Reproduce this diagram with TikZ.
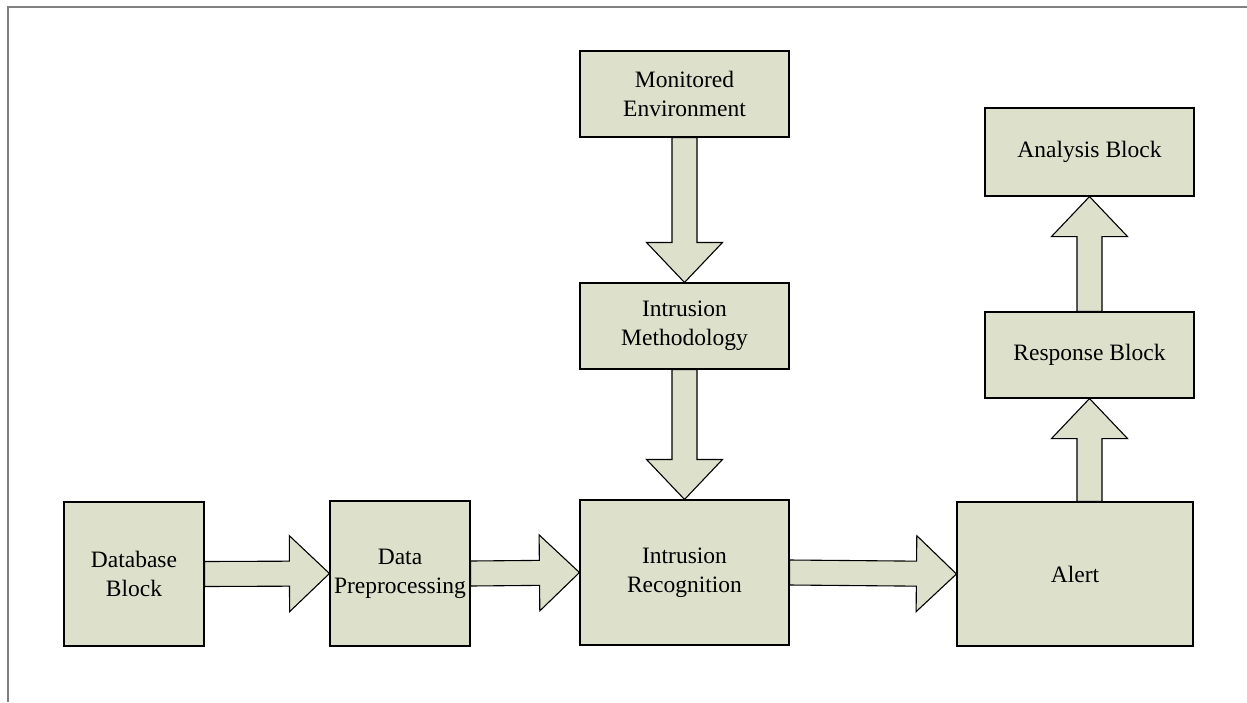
\documentclass[tikz,border=0pt]{standalone}
\usepackage{fontspec}
\setmainfont{Liberation Serif}
\usetikzlibrary{calc,shadows}

\definecolor{boxfill}{HTML}{DDE0CB}
\definecolor{framegray}{HTML}{808080}

\tikzset{
  blockbox/.style={draw=black, line width=1.1pt, fill=boxfill, inner sep=0pt,
    align=center, font=\fontsize{23.5}{29}\selectfont,
    drop shadow={shadow xshift=1.2pt, shadow yshift=-1.2pt, fill=black!45, opacity=0.8}},
  fatarrowstyle/.style={draw=black, line width=1.1pt, fill=boxfill, line join=miter}
}

% broad arrow from point #1 to point #2 (tip at #2)
\newcommand\fatarrow[2]{%
  \coordinate (fa-a) at #1;
  \coordinate (fa-b) at #2;
  \coordinate (fa-h) at ($(fa-b)!40pt!(fa-a)$);
  \filldraw[fatarrowstyle]
    ($(fa-a)!12.5pt!90:(fa-b)$) -- ($(fa-h)!12.5pt!-90:(fa-a)$)
    -- ($(fa-h)!38pt!-90:(fa-a)$) -- (fa-b)
    -- ($(fa-h)!38pt!90:(fa-a)$) -- ($(fa-h)!12.5pt!90:(fa-a)$)
    -- ($(fa-a)!12.5pt!-90:(fa-b)$) -- cycle;
}

\begin{document}
\begin{tikzpicture}[x=1pt, y=-1pt]
  \useasboundingbox (0,0) rectangle (1247,702);

  % page frame (top and left edges only)
  \draw[framegray, line width=2.5pt] (8,702) -- (8,7) -- (1247,7);

  % blocks
  \node[blockbox, minimum width=140pt, minimum height=144pt] (db)  at (134,574)    {Database\\Block};
  \node[blockbox, minimum width=140pt, minimum height=145pt] (pre) at (400,573.5)  {Data\\Preprocessing};
  \node[blockbox, minimum width=209pt, minimum height=145pt] (ir)  at (684.5,572.5) {Intrusion\\Recognition};
  \node[blockbox, minimum width=236pt, minimum height=144pt] (al)  at (1075,574)   {Alert};
  \node[blockbox, minimum width=209pt, minimum height=86pt]  (me)  at (684.5,94)   {Monitored\\Environment};
  \node[blockbox, minimum width=209pt, minimum height=86pt]  (im)  at (684.5,326)  {Intrusion\\Methodology};
  \node[blockbox, minimum width=209pt, minimum height=86pt]  (rb)  at (1089.5,355) {Response Block};
  \node[blockbox, minimum width=209pt, minimum height=88pt]  (ab)  at (1089.5,152) {Analysis Block};

  % broad arrows between the blocks
  \fatarrow{(db.east)}{(pre.west)}
  \fatarrow{(pre.east)}{(ir.west)}
  \fatarrow{(ir.east)}{(al.west)}
  \fatarrow{(me.south)}{(im.north)}
  \fatarrow{(im.south)}{(ir.north)}
  \fatarrow{(al.north -| rb.south)}{(rb.south)}
  \fatarrow{(rb.north)}{(ab.south)}
\end{tikzpicture}
\end{document}
